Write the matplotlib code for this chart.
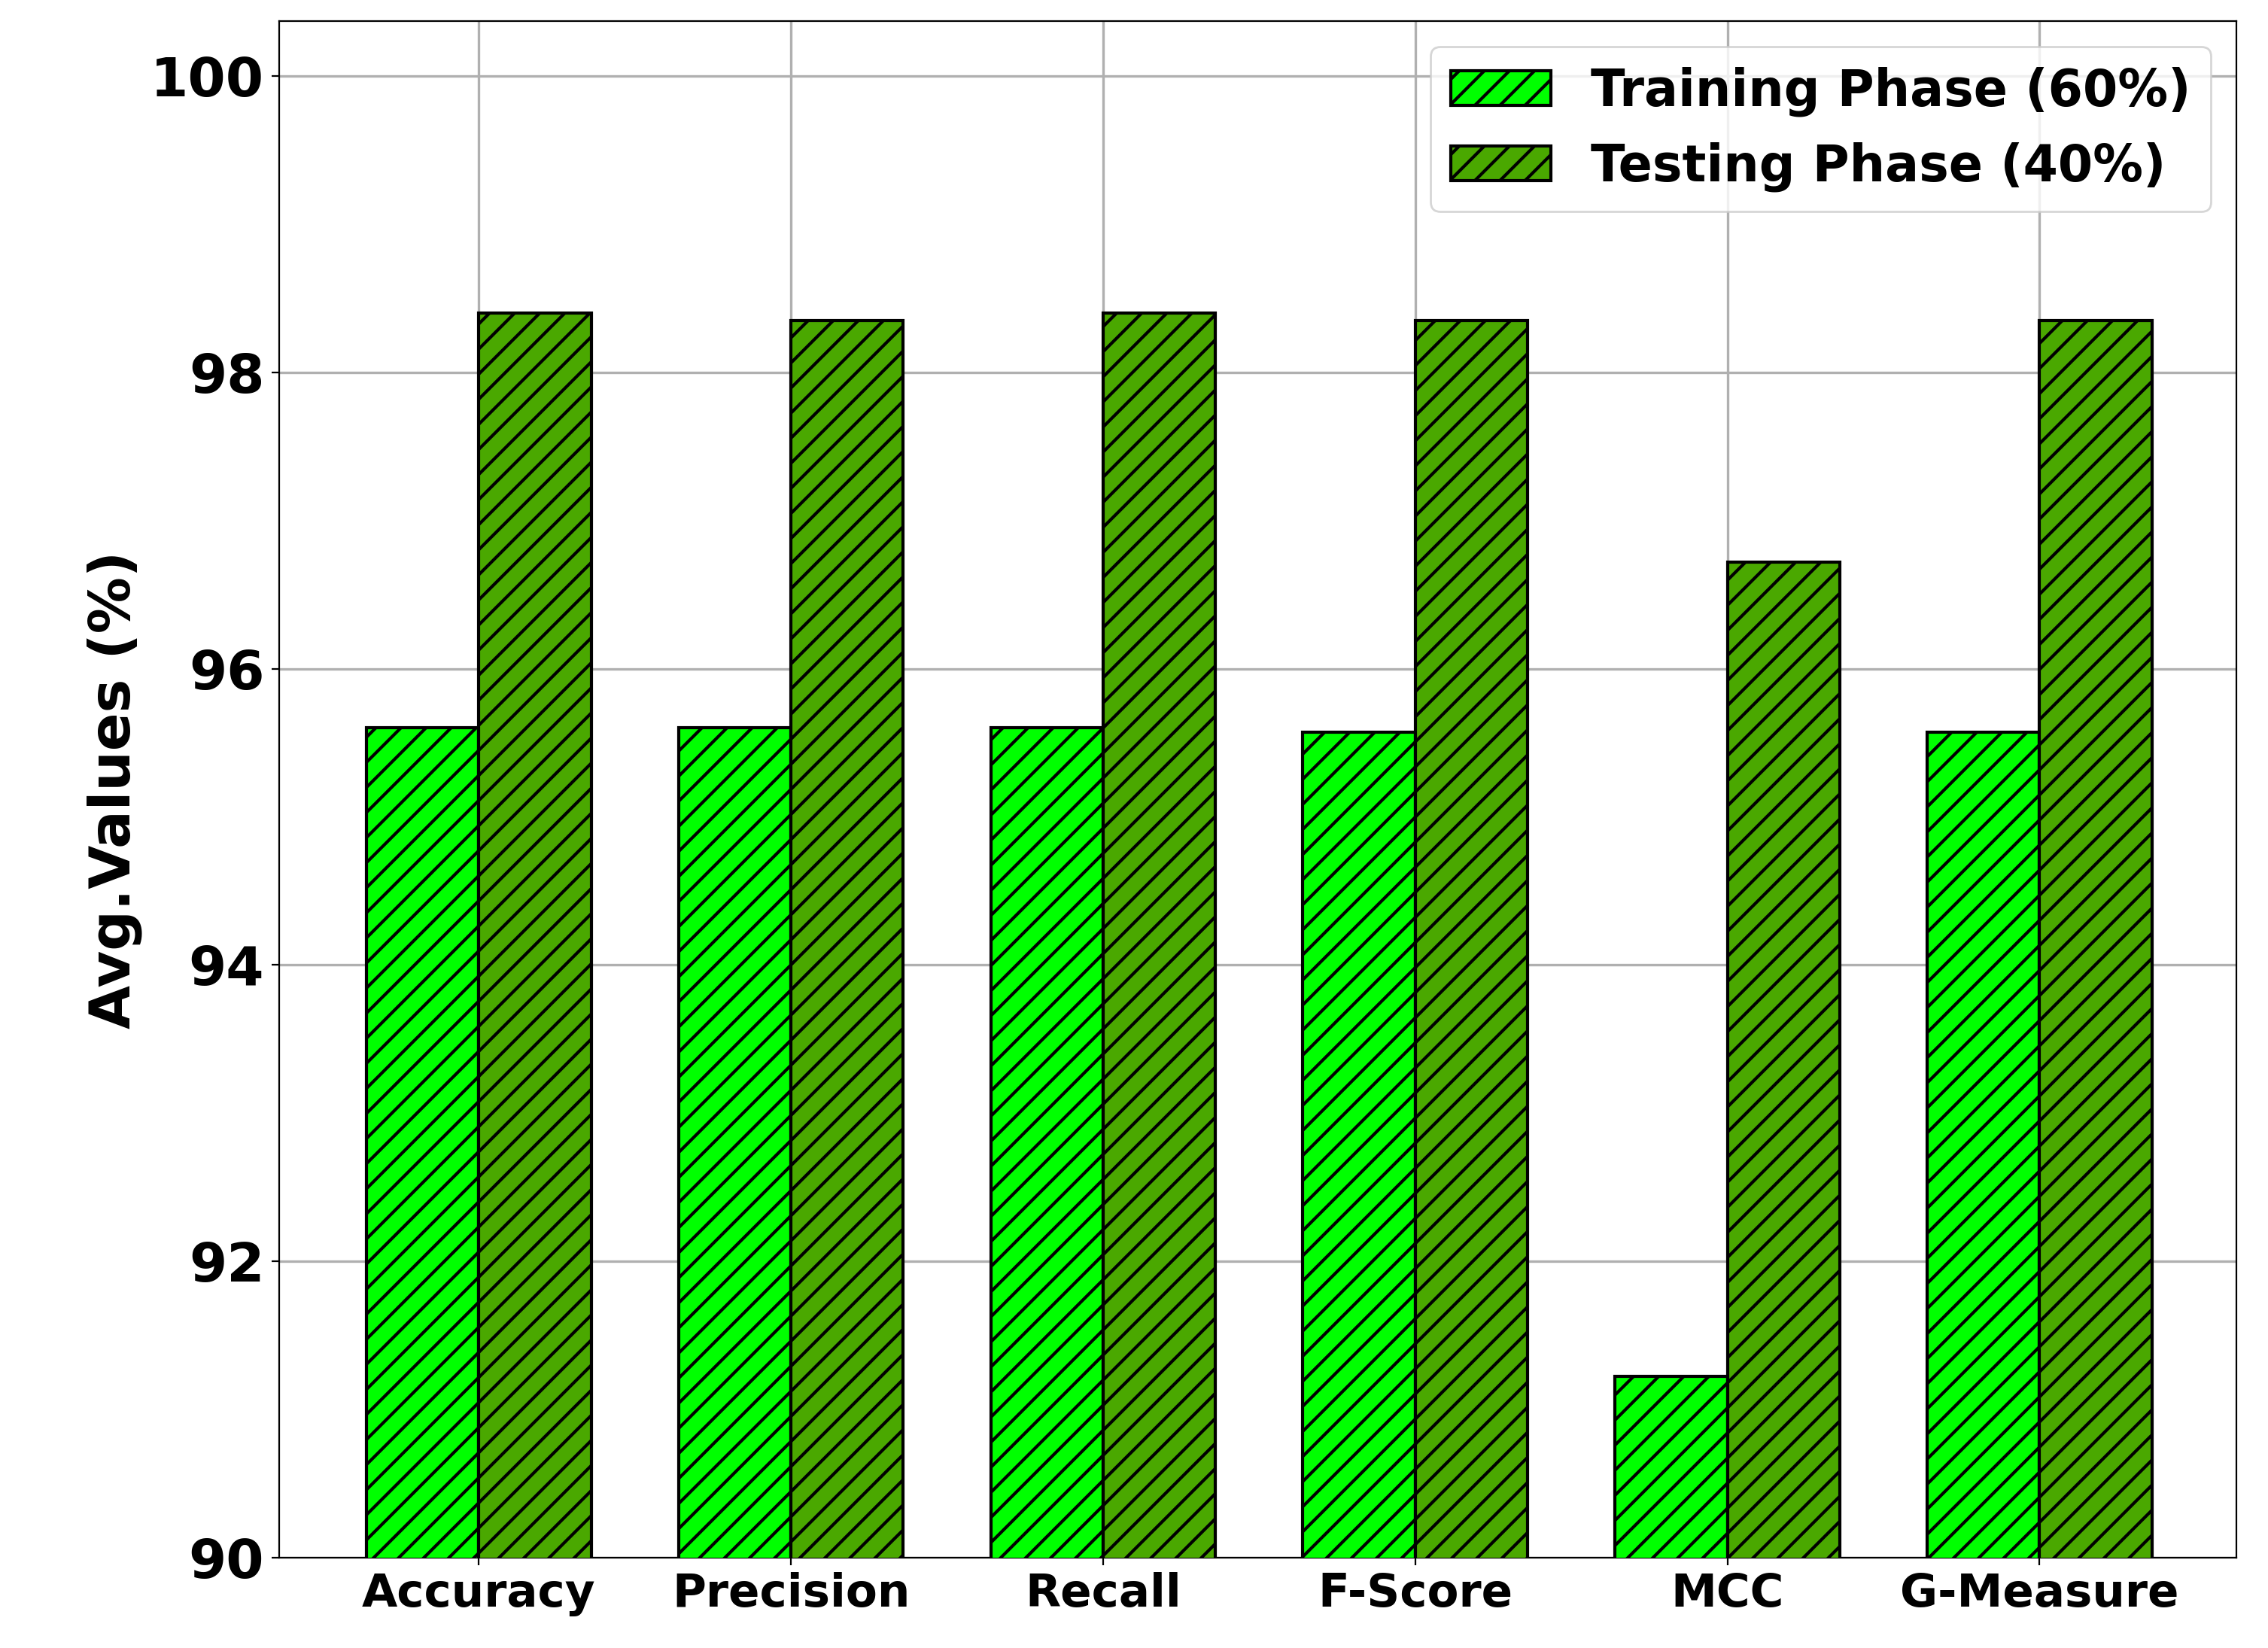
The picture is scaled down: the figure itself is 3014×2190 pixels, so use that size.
import numpy as np
import matplotlib.pyplot as plt

metrics = ['Accuracy', 'Precision', 'Recall', 'F-Score', 'MCC', 'G-Measure']
train = [95.60, 95.60, 95.60, 95.57, 91.22, 95.57]
test = [98.40, 98.35, 98.40, 98.35, 96.72, 98.35]

plt.rcParams['font.weight'] = 'bold'
plt.rcParams['hatch.linewidth'] = 1.5
fig = plt.figure(figsize=(15.07, 10.95), dpi=200)
ax = fig.add_axes([0.123, 0.055, 0.863, 0.932])
x = np.arange(len(metrics))
w = 0.36
ax.bar(x - w/2, train, w, color='#00ff00', edgecolor='black', linewidth=1.5, hatch='//', label='Training Phase (60%)', zorder=3)
ax.bar(x + w/2, test, w, color='#4aa800', edgecolor='black', linewidth=1.5, hatch='//', label='Testing Phase (40%)', zorder=3)
ax.set_ylim(90, 100.37)
ax.set_xlim(-0.64, 5.63)
ax.set_xticks(x)
ax.set_xticklabels(metrics, fontsize=22, fontweight='bold')
ax.set_yticks([90, 92, 94, 96, 98, 100])
ax.tick_params(axis='y', labelsize=26)
ax.set_ylabel('Avg.Values (%)', fontsize=27, fontweight='bold')
ax.grid(True, color='#b0b0b0', linewidth=1.2, zorder=0)
ax.legend(loc='upper right', prop={'weight': 'bold', 'size': 24})
fig.savefig('out.png')
